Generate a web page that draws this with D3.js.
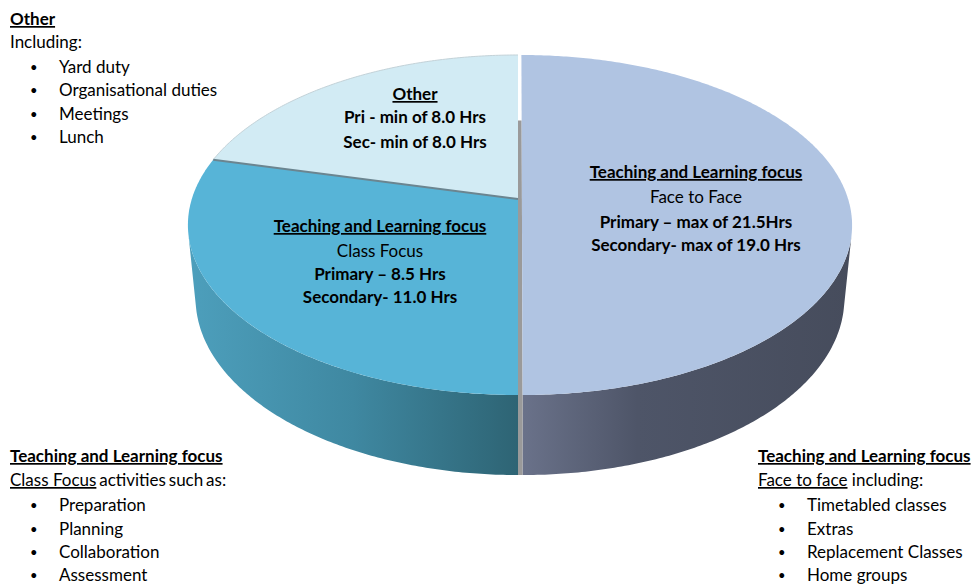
<!DOCTYPE html>
<html><head><meta charset="utf-8">
<script src="https://cdn.jsdelivr.net/npm/d3@7"></script>
<style>
html,body{margin:0;padding:0;background:#fff;}
svg{display:block;}
text{font-family:Lato,"Open Sans",sans-serif;fill:#000;}
</style></head>
<body>
<svg id="chart" width="977" height="586"></svg>
<script>
// ---------- data ----------
const categories = ["Face to Face", "Class Focus", "Other"];
const secondaryHours = [19.0, 11.0, 8.0];   // slice sizes (secondary hours)
const primaryHours = [21.5, 8.5, 8.0];
const faceLabel  = ["Teaching and Learning focus", "Face to Face", "Primary – max of 21.5Hrs", "Secondary- max of 19.0 Hrs"];
const classLabel = ["Teaching and Learning focus", "Class Focus", "Primary – 8.5 Hrs", "Secondary- 11.0 Hrs"];
const otherLabel = ["Other", "Pri - min of 8.0 Hrs", "Sec- min of 8.0 Hrs"];
const otherActivities = ["Yard duty", "Organisational duties", "Meetings", "Lunch"];
const classActivities = ["Preparation", "Planning", "Collaboration", "Assessment"];
const faceActivities  = ["Timetabled classes", "Extras", "Replacement Classes", "Home groups"];

// ---------- styles ----------
const topColors = ["#b0c4e2", "#57b4d7", "#d2ebf4"];
const explode = [0.012, 0, 0];

const svg = d3.select("#chart");
const defs = svg.append("defs");

// perspective projection of a flat cylinder
const cx = 518, cy = 199, fx = 1843, fy = 1865, D = 5.65, tilt = 30.2 * Math.PI / 180, depth = 0.26;
const s = Math.sin(tilt), c = Math.cos(tilt);
function proj(u, w, h) {
  const Y = h * c - w * s, Z = D - (h * s + w * c);
  return [cx + fx * u / Z, cy - fy * Y / Z];
}
const visMin = Math.acos(-1 / (D * c)), visMax = 2 * Math.PI - visMin;

const pie = d3.pie().sort(null).value(d => d)(secondaryHours);
const line = d3.line();
function arcPts(a0, a1, h, du, dw) {
  const n = Math.max(2, Math.ceil(Math.abs(a1 - a0) / 0.01));
  return d3.range(n + 1).map(i => {
    const a = a0 + (a1 - a0) * i / n;
    return proj(Math.sin(a) + du, -Math.cos(a) + dw, h);
  });
}

// gradients for walls
function grad(id, x1, x2, stops) {
  const g = defs.append("linearGradient").attr("id", id).attr("gradientUnits", "userSpaceOnUse")
    .attr("x1", x1).attr("x2", x2).attr("y1", 0).attr("y2", 0);
  stops.forEach(([o, col]) => g.append("stop").attr("offset", o).attr("stop-color", col));
}
grad("wall0", 522, 852, [[0, "#6a728a"], [0.35, "#4e5568"], [1, "#464c5c"]]);
grad("wall1", 188, 518, [[0, "#4d9fbc"], [0.5, "#3f88a1"], [1, "#2e6474"]]);
grad("wall2", 188, 518, [[0, "#a0c8d6"], [1, "#7fa7b4"]]);

const offs = pie.map((p, i) => {
  const mid = (p.startAngle + p.endAngle) / 2;
  return [explode[i] * Math.sin(mid), -explode[i] * Math.cos(mid)];
});

// walls
pie.forEach((p, i) => {
  const a0 = Math.max(p.startAngle, visMin), a1 = Math.min(p.endAngle, visMax);
  if (a1 <= a0) return;
  const [du, dw] = offs[i];
  const pts = arcPts(a0, a1, 0, du, dw).concat(arcPts(a1, a0, -depth, du, dw));
  svg.append("path").attr("d", line(pts) + "Z").attr("fill", `url(#wall${i})`);
});

// gap strip between exploded slice and the rest
(function () {
  const e = offs[0][0];
  const ws = d3.range(0, 31).map(i => -0.51 + 1.51 * i / 30);
  const left = ws.map(w => proj(0, w, 0)).concat([proj(0, 1, -depth)]);
  const right = [proj(e, 1, -depth)].concat(ws.slice().reverse().map(w => proj(e, w, 0)));
  svg.append("path").attr("d", line(left.concat(right)) + "Z").attr("fill", "#9a9a9a");
})();

// top faces
pie.forEach((p, i) => {
  const [du, dw] = offs[i];
  const pts = [proj(du, dw, 0)].concat(arcPts(p.startAngle, p.endAngle, 0, du, dw));
  svg.append("path").attr("d", line(pts) + "Z").attr("fill", topColors[i]);
});
// subtle rim shadow on back slice
svg.append("path").attr("d", line(arcPts(pie[2].startAngle, pie[2].endAngle, 0, 0, 0)))
  .attr("fill", "none").attr("stroke", "#c3d2d8").attr("stroke-width", 1);
// boundary between Class Focus and Other
svg.append("path").attr("d", line([proj(0, 0, 0), proj(Math.sin(pie[2].startAngle), -Math.cos(pie[2].startAngle), 0)]))
  .attr("stroke", "#6b8590").attr("stroke-width", 2).attr("fill", "none");

// ---------- labels ----------
const FS = 17;
function block(x, anchor, baselines, lines, styles) {
  const g = svg.append("g");
  lines.forEach((t, i) => {
    const st = styles[i];
    g.append("text").attr("x", x).attr("y", baselines[i]).attr("text-anchor", anchor)
      .attr("font-size", FS)
      .attr("font-weight", st.includes("b") ? 700 : 400)
      .attr("text-decoration", st.includes("u") ? "underline" : null)
      .attr("fill", st.includes("g") ? "#222" : "#000")
      .text(t);
  });
}
block(696, "middle", [178, 203, 228, 251], faceLabel, ["bu", "g", "b", "b"]);
block(380, "middle", [232, 257, 280, 303], classLabel, ["bu", "g", "b", "b"]);
block(415, "middle", [100, 123, 148], otherLabel, ["bu", "b", "b"]);

function notes(x, ys, title, introU, introRest, items, itemYs, ws) {
  svg.append("text").attr("x", x).attr("y", ys[0]).attr("font-size", FS).attr("font-weight", 700)
    .attr("text-decoration", "underline").text(title);
  const t = svg.append("text").attr("x", x).attr("y", ys[1]).attr("font-size", FS);
  if (introU) t.append("tspan").attr("text-decoration", "underline").text(introU);
  t.append("tspan").attr("word-spacing", ws || 0).text(introRest);
  items.forEach((it, i) => {
    svg.append("text").attr("x", x + 20).attr("y", itemYs[i] - 1).attr("font-size", 13).text("•");
    svg.append("text").attr("x", x + 49).attr("y", itemYs[i]).attr("font-size", FS).text(it);
  });
}
notes(10, [25, 48], "Other", null, "Including:", otherActivities, [73, 96, 120, 143]);
notes(10, [462, 486], "Teaching and Learning focus", "Class Focus", " activities such as:", classActivities, [511, 535, 558, 581], -1.5);
notes(758, [462, 486], "Teaching and Learning focus", "Face to face", " including:", faceActivities, [511, 535, 558, 581]);
</script>
</body></html>
